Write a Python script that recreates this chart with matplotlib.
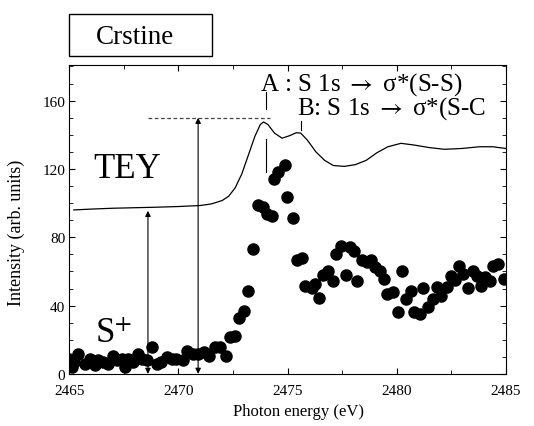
import numpy as np
from matplotlib import pyplot as plt
from matplotlib.patches import Rectangle

plt.rcParams['font.family'] = ['Liberation Serif', 'DejaVu Serif']
plt.rcParams['mathtext.fontset'] = 'stix'

# TEY spectrum (solid line)
tey_e = [2465.2, 2466, 2467, 2468, 2469, 2470, 2471, 2471.5, 2472, 2472.3, 2472.6, 2472.9,
         2473.2, 2473.5, 2473.75, 2473.9, 2474.1, 2474.4, 2474.75, 2475.1, 2475.4, 2475.6,
         2475.9, 2476.3, 2476.7, 2477.1, 2477.6, 2478.1, 2478.6, 2479.1, 2479.6, 2480.2,
         2480.8, 2481.5, 2482.2, 2483, 2483.8, 2484.4, 2485]
tey_i = [96, 96.5, 97, 97.3, 97.6, 98, 98.6, 99.5, 101.5, 104, 109, 117,
         128, 139, 146, 147.5, 146, 141, 138, 139.5, 141.2, 141,
         137, 130, 125, 122, 121.5, 122.5, 125, 129.5, 133, 135,
         134, 132.5, 131.5, 132, 133, 133, 132]

# S+ ion yield (dots)
ion_e = [2465.0, 2465.1, 2465.2, 2465.4, 2465.7, 2465.94, 2466.17, 2466.3, 2466.55, 2466.78,
         2467.0, 2467.2, 2467.4, 2467.55, 2467.7, 2467.93, 2468.16, 2468.35, 2468.54, 2468.77,
         2469.0, 2469.18, 2469.46, 2469.69, 2469.9, 2470.19, 2470.4, 2470.68, 2470.9, 2471.17,
         2471.4, 2471.67, 2471.9, 2472.2, 2472.36, 2472.59, 2472.79, 2473.0, 2473.2, 2473.43,
         2473.63, 2473.89, 2474.05, 2474.28, 2474.38, 2474.58, 2474.89, 2474.99, 2475.24, 2475.42,
         2475.65, 2475.8, 2476.1, 2476.26, 2476.46, 2476.64, 2476.87, 2477.07, 2477.22, 2477.44,
         2477.68, 2477.84, 2478.05, 2478.2, 2478.4, 2478.63, 2478.82, 2479.0, 2479.24, 2479.43,
         2479.58, 2479.83, 2480.04, 2480.24, 2480.44, 2480.65, 2480.8, 2481.05, 2481.23, 2481.46,
         2481.66, 2481.84, 2482.03, 2482.3, 2482.49, 2482.68, 2482.88, 2483.06, 2483.29, 2483.5,
         2483.68, 2483.86, 2484.06, 2484.29, 2484.44, 2484.67, 2484.9]
ion_i = [9, 4, 7, 11.7, 6, 9, 5, 8, 7, 6,
         10.7, 8, 9, 4, 9, 7, 11.7, 9, 8, 15.6,
         6, 7, 10, 9, 9, 8, 13.7, 11.7, 11.7, 12.7,
         10.7, 15.6, 15.6, 10.7, 21.5, 22, 32.6, 37, 48.4, 73.2,
         98.6, 97.6, 93.7, 92.7, 114.2, 118.1, 122.6, 103.5, 91.5, 66.4,
         67.7, 51.7, 50.2, 52.7, 44.3, 58, 60, 54.6, 70.3, 75.1,
         58, 74.2, 72.2, 54.6, 66.4, 65.4, 66.4, 62.5, 60.5, 55.6,
         46.9, 47.8, 36.1, 60.5, 43.9, 48.8, 36.5, 35.1, 50.2, 39,
         43.9, 50.8, 45.9, 50.8, 57.2, 55.2, 63.4, 58.6, 50.2, 60.5,
         57.6, 51.7, 56.6, 54.6, 63.4, 64.4, 55.6]

fig = plt.figure(figsize=(5.34, 4.27), dpi=100)
ax = fig.add_axes([0.130, 0.122, 0.817, 0.724])

ax.plot(tey_e, tey_i, color='black', lw=0.9)
ax.plot(ion_e, ion_i, 'o', color='black', ms=8, mec='black')

# peak markers
ax.plot([2474.0, 2474.0], [155.2, 165.0], color='black', lw=0.8)
ax.plot([2474.0, 2474.0], [118.3, 137.6], color='black', lw=0.8)
ax.plot([2475.6, 2475.6], [142.9, 148.2], color='black', lw=0.8)
ax.plot([2468.6, 2474.2], [150, 150], color='#444444', lw=0.9, ls=(0, (3, 2)))

arr = dict(arrowstyle='<|-|>', color='black', lw=0.8, mutation_scale=8, shrinkA=0, shrinkB=0)
ax.annotate('', xy=(2470.9, 150), xytext=(2470.9, 0), arrowprops=arr)
ax.annotate('', xy=(2468.6, 95.5), xytext=(2468.6, 0), arrowprops=arr)

ax.text(2473.73, 166.3, 'A : S 1s $\\rightarrow$ \u03c3*(S-S)', fontsize=18, va='baseline')
ax.text(2475.42, 152.3, 'B: S 1s $\\rightarrow$ \u03c3*(S-C', fontsize=18, va='baseline')
ax.text(2466.1, 115.2, 'TEY', fontsize=25, va='baseline')
ax.text(2466.17, 18.7, r'S$^{+}$', fontsize=25, va='baseline')

ax.set_xlim(2465, 2485)
ax.set_ylim(0, 181)
ax.set_xticks([2465, 2470, 2475, 2480, 2485])
ax.set_xticks(np.arange(2465, 2485.1, 2.5), minor=True)
ax.set_yticks([0, 40, 80, 120, 160])
ax.set_yticks(np.arange(0, 181, 10), minor=True)
ax.tick_params(which='both', direction='in', top=True, right=True, labelsize=11)
ax.tick_params(axis='x', pad=7)
ax.tick_params(axis='y', pad=3)
ax.tick_params(which='major', length=4)
ax.tick_params(which='minor', length=3)
ax.set_xlabel('Photon energy (eV)', fontsize=12)
ax.xaxis.set_label_coords(0.525, -0.095)
ax.set_ylabel('Intensity (arb. units)', fontsize=13)
ax.yaxis.set_label_coords(-0.102, 0.459)

# title box
fig.patches.append(Rectangle((69 / 534, 1 - 57 / 427), 143 / 534, 42 / 427,
                             transform=fig.transFigure, fill=False, lw=1, ec='black'))
fig.text(135 / 534, 1 - 37 / 427, 'Crstine', fontsize=19.5, ha='center', va='center')

fig.savefig('out.png', dpi=100)
